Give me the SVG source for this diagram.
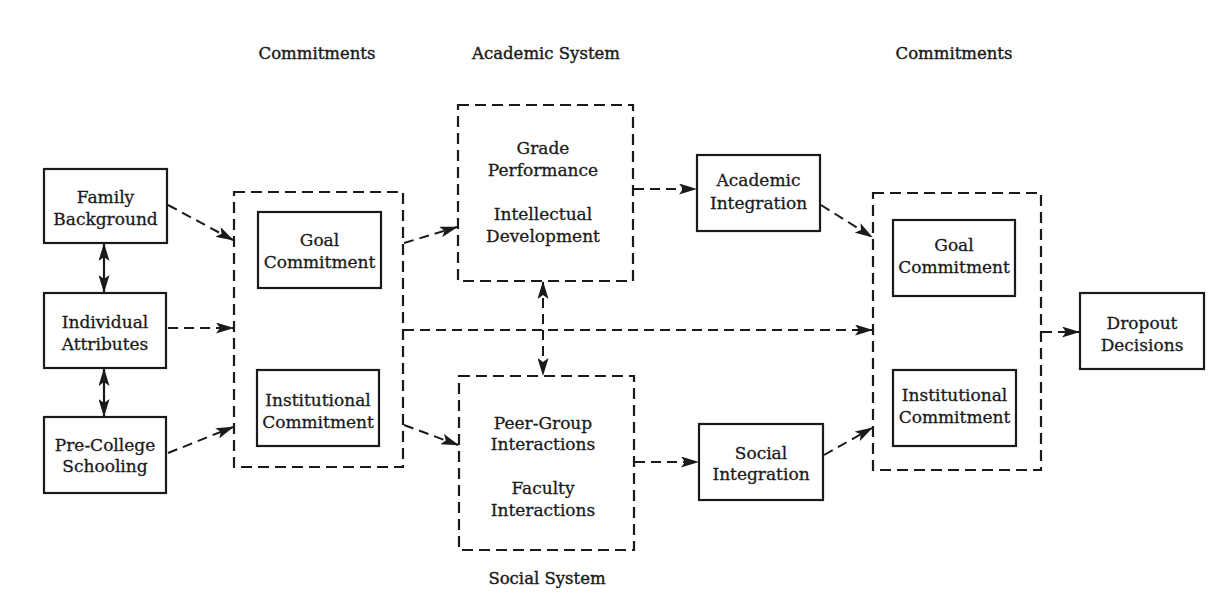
<svg xmlns="http://www.w3.org/2000/svg" width="1209" height="593" viewBox="0 0 1209 593">
<style>
.bg{fill:#fff}
.box{fill:none;stroke:#1a1a1a;stroke-width:2.2}
.dbox{fill:none;stroke:#1a1a1a;stroke-width:2.2;stroke-dasharray:11 6}
.t{font-family:"DejaVu Serif","Liberation Serif",serif;font-size:17px;fill:#1a1a1a;stroke:#1a1a1a;stroke-width:0.3;text-anchor:middle}
.h{font-family:"DejaVu Serif","Liberation Serif",serif;font-size:16.5px;fill:#1a1a1a;stroke:#1a1a1a;stroke-width:0.4;text-anchor:middle}
.c{fill:none;stroke:#1a1a1a;stroke-width:2.2}
.cd{fill:none;stroke:#1a1a1a;stroke-width:2;stroke-dasharray:10 6}
</style>
<defs>
<marker id="ah" viewBox="0 0 18 11" refX="17" refY="5.5" markerWidth="18" markerHeight="11" markerUnits="userSpaceOnUse" orient="auto-start-reverse">
<path d="M0,0 L18,5.5 L0,11 L4,5.5 z" fill="#1a1a1a"/>
</marker>
</defs>
<rect class="bg" x="0" y="0" width="1209" height="593"/>

<g id="titles">
<text class="h" x="317" y="59">Commitments</text>
<text class="h" x="546" y="59">Academic System</text>
<text class="h" x="954" y="59">Commitments</text>
<text class="h" x="547" y="584">Social System</text>
</g>

<g id="family-background">
<rect class="box" x="44" y="169" width="123" height="74"/>
<text class="t" x="105.5" y="203">Family</text>
<text class="t" x="105.5" y="225">Background</text>
</g>
<g id="individual-attributes">
<rect class="box" x="44" y="293" width="122" height="75"/>
<text class="t" x="105" y="328">Individual</text>
<text class="t" x="105" y="350">Attributes</text>
</g>
<g id="pre-college-schooling">
<rect class="box" x="44" y="417" width="122" height="76"/>
<text class="t" x="105" y="451">Pre-College</text>
<text class="t" x="105" y="472">Schooling</text>
</g>

<g id="commitments-left">
<rect class="dbox" x="234" y="192" width="169" height="275"/>
</g>
<g id="goal-commitment-left">
<rect class="box" x="258" y="212" width="123" height="76"/>
<text class="t" x="319.5" y="246">Goal</text>
<text class="t" x="319.5" y="268">Commitment</text>
</g>
<g id="institutional-commitment-left">
<rect class="box" x="257" y="370" width="122" height="76"/>
<text class="t" x="318" y="406">Institutional</text>
<text class="t" x="318" y="428">Commitment</text>
</g>

<g id="academic-system">
<rect class="dbox" x="458" y="105" width="175" height="176"/>
<text class="t" x="543" y="154">Grade</text>
<text class="t" x="543" y="176">Performance</text>
<text class="t" x="543" y="220">Intellectual</text>
<text class="t" x="543" y="242">Development</text>
</g>
<g id="social-system">
<rect class="dbox" x="459" y="376" width="175" height="174"/>
<text class="t" x="543" y="429">Peer-Group</text>
<text class="t" x="543" y="450">Interactions</text>
<text class="t" x="543" y="494">Faculty</text>
<text class="t" x="543" y="516">Interactions</text>
</g>

<g id="academic-integration">
<rect class="box" x="697" y="155" width="123" height="76"/>
<text class="t" x="758.5" y="186">Academic</text>
<text class="t" x="758.5" y="209">Integration</text>
</g>
<g id="social-integration">
<rect class="box" x="699" y="424" width="124" height="76"/>
<text class="t" x="761" y="459">Social</text>
<text class="t" x="761" y="480">Integration</text>
</g>

<g id="commitments-right">
<rect class="dbox" x="873" y="193" width="168" height="277"/>
</g>
<g id="goal-commitment-right">
<rect class="box" x="893" y="220" width="122" height="76"/>
<text class="t" x="954" y="251">Goal</text>
<text class="t" x="954" y="273">Commitment</text>
</g>
<g id="institutional-commitment-right">
<rect class="box" x="893" y="370" width="123" height="76"/>
<text class="t" x="954.5" y="401">Institutional</text>
<text class="t" x="954.5" y="423">Commitment</text>
</g>

<g id="dropout-decisions">
<rect class="box" x="1080" y="293" width="124" height="76"/>
<text class="t" x="1142" y="329">Dropout</text>
<text class="t" x="1142" y="351">Decisions</text>
</g>

<g id="connectors">
<line class="c" x1="104" y1="244" x2="104" y2="292" marker-start="url(#ah)" marker-end="url(#ah)"/>
<line class="c" x1="104" y1="369" x2="104" y2="416" marker-start="url(#ah)" marker-end="url(#ah)"/>
<line class="cd" x1="168" y1="205" x2="233" y2="240" marker-end="url(#ah)"/>
<line class="cd" x1="168" y1="328" x2="233" y2="328" marker-end="url(#ah)"/>
<line class="cd" x1="168" y1="453" x2="233" y2="427" marker-end="url(#ah)"/>
<line class="cd" x1="404" y1="243" x2="457" y2="227" marker-end="url(#ah)"/>
<line class="cd" x1="404" y1="425" x2="458" y2="445" marker-end="url(#ah)"/>
<line class="cd" x1="404" y1="330" x2="872" y2="330" marker-end="url(#ah)"/>
<line class="cd" x1="543" y1="282" x2="543" y2="375" marker-start="url(#ah)" marker-end="url(#ah)"/>
<line class="cd" x1="634" y1="189" x2="696" y2="189" marker-end="url(#ah)"/>
<line class="cd" x1="635" y1="462" x2="698" y2="462" marker-end="url(#ah)"/>
<line class="cd" x1="821" y1="205" x2="872" y2="237" marker-end="url(#ah)"/>
<line class="cd" x1="824" y1="455" x2="872" y2="428" marker-end="url(#ah)"/>
<line class="cd" x1="1042" y1="332" x2="1079" y2="332" marker-end="url(#ah)"/>
</g>
</svg>
